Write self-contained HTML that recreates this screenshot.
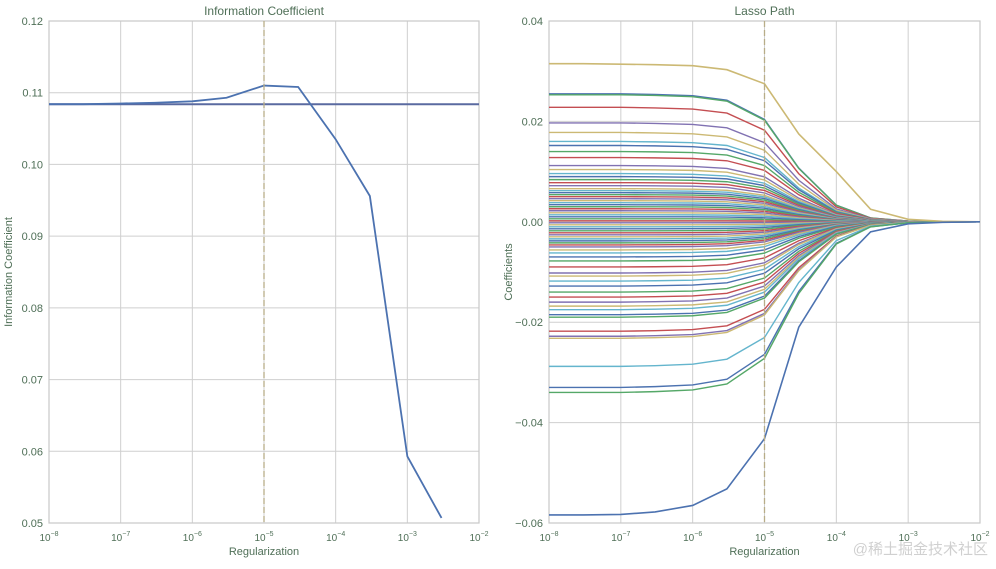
<!DOCTYPE html>
<html><head><meta charset="utf-8">
<style>
body{margin:0;background:#fff;width:996px;height:564px;overflow:hidden;font-family:"Liberation Sans","Noto Sans CJK SC",sans-serif;}
svg text{font-family:"Liberation Sans","Noto Sans CJK SC",sans-serif;fill:#4f6f57;}
</style></head><body>
<svg id="chart" width="996" height="564"></svg>
<script>
const xExp = [-8,-7.523,-7,-6.523,-6,-5.523,-5,-4.523,-4,-3.523,-3,-2.523,-2];
const icX = [-8,-7.523,-7,-6.523,-6,-5.523,-5,-4.523,-4,-3.523,-3,-2.523];
const icValues = [0.1084,0.1084,0.1085,0.1086,0.1088,0.1093,0.1110,0.1108,0.1035,0.0956,0.0593,0.0507];
const icBaseline = 0.1084;
const icTicks = [0.05,0.06,0.07,0.08,0.09,0.10,0.11,0.12];
const coefTicks = [-0.06,-0.04,-0.02,0.00,0.02,0.04];
const xTickExps = [-8,-7,-6,-5,-4,-3,-2];
const shrink = [1,1,1,0.995,0.985,0.95,0.8,0.42,0.13,0.03,0.006,0.001,0];
const startCoefs = [0.0255,0.0253,0.0228,0.0197,0.0178,0.0160,0.0152,0.0140,0.0128,0.0112,0.0104,0.0096,0.0090,0.0084,0.0078,0.0072,0.0066,0.0062,0.0058,0.0054,0.0050,0.0046,0.0042,0.0038,0.0034,0.0030,0.0026,0.0022,0.0018,0.0014,0.0010,0.0006,0.0002,-0.0002,-0.0006,-0.0010,-0.0014,-0.0018,-0.0022,-0.0026,-0.0030,-0.0034,-0.0038,-0.0042,-0.0046,-0.0050,-0.0056,-0.0062,-0.0070,-0.0078,-0.0090,-0.0102,-0.0108,-0.0118,-0.0128,-0.0140,-0.0150,-0.0160,-0.0168,-0.0175,-0.0185,-0.0190,-0.0218,-0.0228,-0.0232,-0.0288,-0.0330,-0.0340];
const topSeries = [0.0315,0.0315,0.0314,0.0313,0.0311,0.0303,0.0275,0.0175,0.0100,0.0025,0.0005,0.0001,0];
const bottomSeries = [-0.0584,-0.0584,-0.0583,-0.0578,-0.0565,-0.0532,-0.0432,-0.0210,-0.0090,-0.0020,-0.0004,-0.0001,0];
const colors = ["#4C72B0","#55A868","#C44E52","#8172B2","#CCB974","#64B5CD"];

const svg = document.getElementById('chart');
const NS = 'http://www.w3.org/2000/svg';
function mk(tag, attrs, parent){const e=document.createElementNS(NS,tag);for(const k in attrs)e.setAttribute(k,attrs[k]);(parent||svg).appendChild(e);return e;}

function panel(x0,x1,y0,y1,ymin,ymax,ticks,fmt,title,ylabel,name){
  const g=mk('g',{});
  
  
  const sx=e=>x0+(e+8)/6*(x1-x0);
  const sy=v=>y1-(v-ymin)/(ymax-ymin)*(y1-y0);
  for(const t of ticks){const l=mk('line',{x1:x0,x2:x1,y1:sy(t),y2:sy(t),stroke:'#cfcfcf','stroke-width':1},g);
    
    const tx=mk('text',{x:x0-6,y:sy(t)+4,'text-anchor':'end','font-size':11},g);tx.textContent=fmt(t);
    }
  for(const e of xTickExps){const l=mk('line',{x1:sx(e),x2:sx(e),y1:y0,y2:y1,stroke:'#cfcfcf','stroke-width':1},g);
    
    const tx=mk('text',{x:sx(e),y:y1+18,'text-anchor':'middle','font-size':10},g);
    tx.innerHTML='10<tspan dy="-5" font-size="7">'+String(e).replace('-','\u2212')+'</tspan>';
    }
  const r=mk('rect',{x:x0,y:y0,width:x1-x0,height:y1-y0,fill:'none',stroke:'#c8c8c8','stroke-width':1.2},g);
  
  const t=mk('text',{x:(x0+x1)/2,y:y0-6,'text-anchor':'middle','font-size':12},g);t.textContent=title;
  
  const xl=mk('text',{x:(x0+x1)/2,y:y1+32,'text-anchor':'middle','font-size':11},g);xl.textContent='Regularization';
  
  const yl=mk('text',{x:0,y:0,'text-anchor':'middle','font-size':11,transform:`translate(${x0-37},${(y0+y1)/2}) rotate(-90)`},g);yl.textContent=ylabel;
  
  return {g,sx,sy};
}
function line(g,xs,ys,sx,sy,color,w,name){
  const p=mk('polyline',{points:xs.map((x,i)=>sx(x)+','+sy(ys[i])).join(' '),fill:'none',stroke:color,'stroke-width':w},g);
  
  
}
// left
const L=panel(49,479,21,523,0.05,0.12,icTicks,v=>v===0.1?'0.10':String(+v.toFixed(2)),'Information Coefficient','Information Coefficient','ic-panel');
const hl=mk('line',{x1:49,x2:479,y1:L.sy(icBaseline),y2:L.sy(icBaseline),stroke:'#5a6aa0','stroke-width':2},L.g);

line(L.g,icX,icValues,L.sx,L.sy,'#4C72B0',1.8,'ic-line');
const vd=mk('line',{x1:L.sx(-5),x2:L.sx(-5),y1:21,y2:523,stroke:'#b8ad88','stroke-width':1.3,'stroke-dasharray':'6,3'},L.g);

// right
const R=panel(549,980,21,523,-0.06,0.04,coefTicks,v=>{const s=v.toFixed(2);return v<0?'\u2212'+s.slice(1):s;},'Lasso Path','Coefficients','lasso-panel');
startCoefs.forEach((c,i)=>{line(R.g,xExp,shrink.map(s=>c*s),R.sx,R.sy,colors[i%colors.length],1.4,'coef-path');});
line(R.g,xExp,topSeries,R.sx,R.sy,'#CCB974',1.6,'coef-path-top');
line(R.g,xExp,bottomSeries,R.sx,R.sy,'#4C72B0',1.6,'coef-path-bottom');
const vd2=mk('line',{x1:R.sx(-5),x2:R.sx(-5),y1:21,y2:523,stroke:'#b8ad88','stroke-width':1.3,'stroke-dasharray':'6,3'},R.g);

const wm=mk('text',{x:988,y:554,'text-anchor':'end','font-size':15,style:'fill:#d0d0d0'});wm.textContent='@稀土掘金技术社区';

</script>
</body></html>
